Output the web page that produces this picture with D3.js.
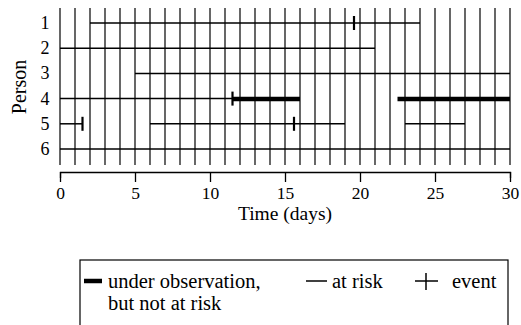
<!DOCTYPE html>
<html>
<head>
<meta charset="utf-8">
<script src="https://cdn.jsdelivr.net/npm/d3@7"></script>
<style>
  body { margin: 0; background: #fff; }
  svg text { font-family: "Liberation Serif", "Times New Roman", "DejaVu Serif", serif; font-size: 20px; fill: #000; }
</style>
</head>
<body>
<svg id="chart" width="521" height="325"></svg>
<script>
// persons on the y axis
const persons = [1, 2, 3, 4, 5, 6];
// day grid and labelled ticks
const days = d3.range(0, 31);
const tickDays = [0, 5, 10, 15, 20, 25, 30];
// at risk periods: [person, start, end]
const atRisk = [
    [1, 2, 24],
    [2, 0, 21],
    [3, 5, 30],
    [4, 0, 11.5],
    [5, 0, 1.5],
    [5, 6, 19],
    [5, 23, 27],
    [6, 0, 30]
];
// under observation but not at risk: [person, start, end]
const notAtRisk = [
    [4, 11.5, 16],
    [4, 22.5, 30]
];
// events: [person, day]
const events = [
    [1, 19.6],
    [4, 11.5],
    [5, 1.5],
    [5, 15.6]
];

const svg = d3.select("#chart");

// scales
const x = d3.scaleLinear().domain([0, 30]).range([60, 510]);
const y = d3.scalePoint().domain(persons).range([23, 149]);

// vertical day grid
svg.append("g").selectAll("line")
    .data(days)
    .enter().append("line")
    .attr("x1", d => x(d)).attr("x2", d => x(d))
    .attr("y1", 8).attr("y2", 165)
    .attr("stroke", "#000")
    .attr("stroke-width", 1.2);

// at risk lines
svg.append("g").selectAll("line")
    .data(atRisk)
    .enter().append("line")
    .attr("x1", d => x(d[1])).attr("x2", d => x(d[2]))
    .attr("y1", d => y(d[0])).attr("y2", d => y(d[0]))
    .attr("stroke", "#000")
    .attr("stroke-width", 1.5);

// not at risk lines (thick)
svg.append("g").selectAll("line")
    .data(notAtRisk)
    .enter().append("line")
    .attr("x1", d => x(d[1])).attr("x2", d => x(d[2]))
    .attr("y1", d => y(d[0]) + 0.5).attr("y2", d => y(d[0]) + 0.5)
    .attr("stroke", "#000")
    .attr("stroke-width", 4.5);

// event marks
svg.append("g").selectAll("line")
    .data(events)
    .enter().append("line")
    .attr("x1", d => x(d[1])).attr("x2", d => x(d[1]))
    .attr("y1", d => y(d[0]) - 7).attr("y2", d => y(d[0]) + 7)
    .attr("stroke", "#000")
    .attr("stroke-width", 2.2);

// person labels
svg.append("g").selectAll("text")
    .data(persons)
    .enter().append("text")
    .attr("x", 45)
    .attr("y", d => y(d) + 6)
    .attr("text-anchor", "middle")
    .style("font-size", "18px")
    .text(d => d);

svg.append("text")
    .attr("transform", "translate(26,87) rotate(-90)")
    .attr("text-anchor", "middle")
    .text("Person");

// x axis
const xAxis = svg.append("g")
    .attr("transform", "translate(0,172)")
    .call(d3.axisBottom(x).tickValues(tickDays).tickSize(10).tickSizeOuter(6).tickPadding(5));
xAxis.attr("font-family", null).attr("font-size", null);
xAxis.select(".domain").attr("stroke-width", 1.3);
xAxis.selectAll(".tick line").attr("stroke-width", 1.3);
xAxis.selectAll("text").style("font-size", "17.5px");

svg.append("text")
    .attr("x", 285).attr("y", 220)
    .attr("text-anchor", "middle")
    .style("font-size", "19.5px")
    .text("Time (days)");

// legend box
svg.append("rect")
    .attr("x", 80).attr("y", 260)
    .attr("width", 428).attr("height", 80)
    .attr("fill", "none")
    .attr("stroke", "#000")
    .attr("stroke-width", 1.2);

const legend = svg.append("g").style("font-size", "20.5px");
legend.append("line")
    .attr("x1", 84).attr("x2", 102).attr("y1", 281).attr("y2", 281)
    .attr("stroke", "#000").attr("stroke-width", 4.5);
legend.append("text").attr("x", 108).attr("y", 288).style("font-size", "20.5px").text("under observation,");
legend.append("text").attr("x", 108).attr("y", 310).style("font-size", "20.5px").text("but not at risk");

legend.append("line")
    .attr("x1", 306).attr("x2", 327).attr("y1", 281).attr("y2", 281)
    .attr("stroke", "#000").attr("stroke-width", 1.5);
legend.append("text").attr("x", 332).attr("y", 288).style("font-size", "20.5px").text("at risk");

legend.append("line")
    .attr("x1", 415).attr("x2", 438).attr("y1", 281).attr("y2", 281)
    .attr("stroke", "#000").attr("stroke-width", 1.5);
legend.append("line")
    .attr("x1", 426).attr("x2", 426).attr("y1", 273).attr("y2", 290)
    .attr("stroke", "#000").attr("stroke-width", 1.5);
legend.append("text").attr("x", 452).attr("y", 288).style("font-size", "20.5px").text("event");
</script>
</body>
</html>
